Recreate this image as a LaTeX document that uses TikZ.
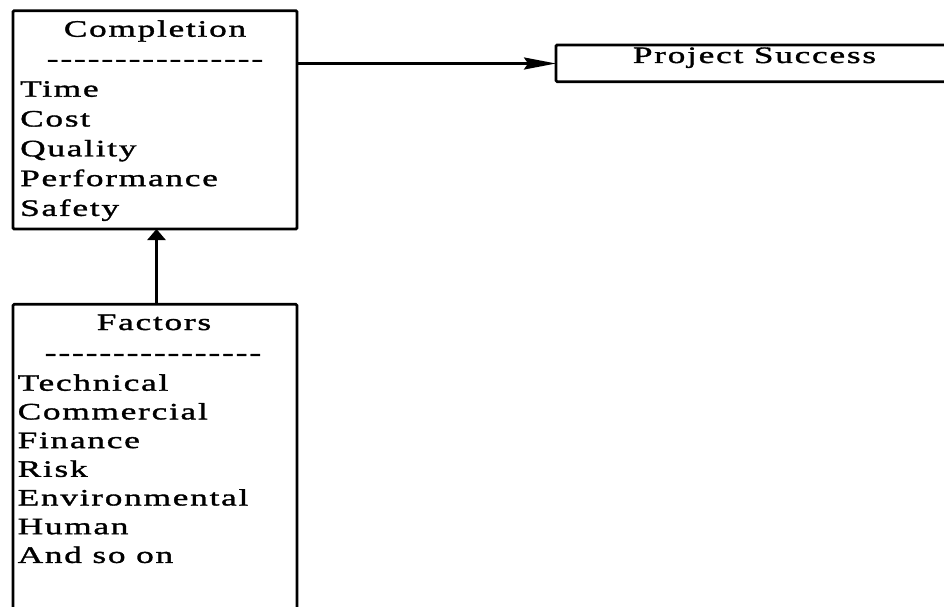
\documentclass[tikz,border=0pt]{standalone}
\usepackage{fontspec}
\setmainfont{Liberation Serif}[FakeStretch=1.5,LetterSpace=7.5,FakeBold=1.4]
\usetikzlibrary{arrows.meta}

% sixteen separate hyphens, kept apart so no dash ligature forms
\newcommand\hyphenrow{%
  \hbox{-}\foreach \k in {2,...,16}{\kern1.9pt\hbox{-}}}

\tikzset{
  panel/.style={draw, line width=2.8pt, rounded corners=1.2pt},
  title/.style={inner sep=0pt, anchor=base},
  item/.style={inner sep=0pt, anchor=base west},
  link/.style={line width=2.5pt},
  txt/.style={font=\fontsize{23.5}{27}\selectfont}
}

\begin{document}
\begin{tikzpicture}[x=1pt,y=1pt,txt]
\useasboundingbox (0,0) rectangle (944,606);

% Completion panel
\draw[panel] (13,595.3) rectangle (297,377);
\coordinate (compN) at (156.5,595.3);
\coordinate (compS) at (156.5,377);
\coordinate (compE) at (297,542.5);
\node[title] (ctitle) at (155,569.3) {Completion};
\node[title] (cdash) at (155,539.5) {\hyphenrow};
\foreach \t [count=\i] in {Time,Cost,Quality,Performance,Safety}
  \node[item] (c\i) at (20,509.3-29.8*\i+29.8) {\t};

% Project Success panel, open on its right side
\draw[panel] (960,561) -- (556,561) -- (556,524.3) -- (960,524.3);
\coordinate (psW) at (556,542.5);
\node[title] (ps) at (754.5,543) {Project Success};

% Factors panel, running past the lower edge
\draw[panel] (13,-20) -- (13,301.7) -- (297,301.7) -- (297,-20);
\coordinate (facN) at (156.5,301.7);
\node[title] (ftitle) at (154,276) {Factors};
\node[title] (fdash) at (153,245.5) {\hyphenrow};
\foreach \t [count=\i] in {Technical,Commercial,Finance,Risk,Environmental,Human,And so on}
  \node[item] (f\i) at (17.5,215.3-28.7*\i+28.7) {\t};

% connectors
\draw[link,-{Stealth[length=32pt,width=12pt,inset=4pt]}] (compE) -- (psW);
\draw[link,-{Triangle[length=11pt,width=18pt]}] (facN) -- (compS);
\end{tikzpicture}
\end{document}
